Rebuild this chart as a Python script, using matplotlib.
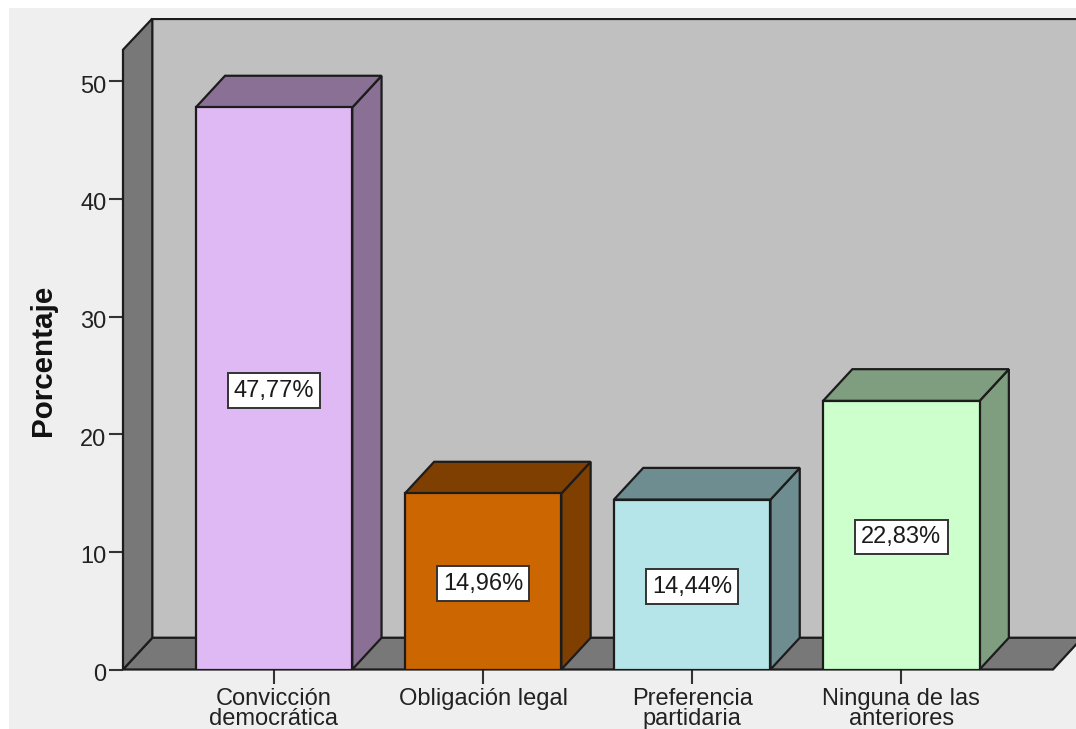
import matplotlib
matplotlib.use("Agg")
import matplotlib.pyplot as plt
from matplotlib.patches import Rectangle
from matplotlib.transforms import ScaledTranslation

# values
categorias = ["Convicción\ndemocrática", "Obligación legal", "Preferencia\npartidaria", "Ninguna de las\nanteriores"]
porcentajes = [47.77, 14.96, 14.44, 22.83]
etiquetas = ["47,77%", "14,96%", "14,44%", "22,83%"]
colores_frente = ["#DFB9F3", "#CC6600", "#B5E5E8", "#CCFFCC"]
colores_lado = ["#897094", "#7F3F00", "#6E8D91", "#7F9E7F"]
ticks_y = [0, 10, 20, 30, 40, 50]

W, H = 1076, 729
LINEA = "#1c1c1c"
plt.rcParams["font.family"] = ["Liberation Sans", "DejaVu Sans"]

fig = plt.figure(figsize=(W / 100, H / 100), dpi=100, facecolor="white")
fig.patches.append(Rectangle((9 / W, 0), 1 - 9 / W, 1 - 8 / H, transform=fig.transFigure,
                             facecolor="#EFEFEF", edgecolor="none", zorder=-1))

# axes box in pixels: front left edge to the picture edge, floor to top of back wall
ax = fig.add_axes([123 / W, (H - 669.5) / H, (W - 123) / W, (669.5 - 18) / H])
ax.patch.set_visible(False)
for s in ax.spines.values():
    s.set_visible(False)

# depth of the fake 3d, in data units
dx = 29.3 / 209.1
dy = 31.7 / 11.76
x_izq = (123 - 274) / 209.1
x_der = (1053 - 274) / 209.1
y_sup = (669.5 - 50) / 11.76
ax.set_xlim(x_izq, (W - 274) / 209.1)
ax.set_ylim(0, y_sup + dy)

lw = 1.6
kw = dict(edgecolor=LINEA, linewidth=lw, joinstyle="miter", clip_on=True)
# back wall, floor, left wall
ax.fill([x_izq + dx, x_der + dx + 1, x_der + dx + 1, x_izq + dx], [dy, dy, y_sup + dy - 0.05, y_sup + dy - 0.05],
        facecolor="#C0C0C0", zorder=1, **kw)
ax.fill([x_izq, x_der, x_der + dx, x_izq + dx], [0, 0, dy, dy], facecolor="#787878", zorder=2,
        edgecolor=LINEA, linewidth=lw, clip_on=False)
ax.fill([x_izq, x_izq + dx, x_izq + dx, x_izq], [0, dy, y_sup + dy - 0.05, y_sup], facecolor="#787878", zorder=2,
        edgecolor=LINEA, linewidth=lw, clip_on=False)

# bars: side and top faces first, then the front
ancho = 156.5 / 209.1
pos = list(range(len(porcentajes)))
for i, v in zip(pos, porcentajes):
    a, b = i - ancho / 2, i + ancho / 2
    ax.fill([b, b + dx, b + dx, b], [0, dy, v + dy, v], facecolor=colores_lado[i], zorder=3, **kw)
    ax.fill([a, b, b + dx, a + dx], [v, v, v + dy, v + dy], facecolor=colores_lado[i], zorder=3, **kw)
ax.bar(pos, porcentajes, width=ancho, color=colores_frente, edgecolor=LINEA, linewidth=lw, zorder=4)

for i, v in zip(pos, porcentajes):
    ax.annotate(etiquetas[i], (i, v / 2), xytext=(0, -1.5), textcoords="offset points",
                ha="center", va="center", fontsize=17, color="#1a1a1a", zorder=5,
                bbox=dict(boxstyle="square,pad=0.26", facecolor="white", edgecolor="#333333", linewidth=1.4))

ax.set_xticks(pos)
ax.set_xticklabels(categorias, fontsize=17, color="#222222", linespacing=0.88)
ax.set_yticks(ticks_y)
ax.tick_params(axis="y", length=10, width=1.5, color="#333333", labelsize=17, labelcolor="#222222", pad=2)
ax.tick_params(axis="x", length=10, width=1.5, color="#333333", pad=3)
for t in ax.get_xticklabels():
    t.set_verticalalignment("top")
# the y labels sit a little below their ticks
bajar = ScaledTranslation(0, -3 / 100, fig.dpi_scale_trans)
for t in ax.get_yticklabels():
    t.set_transform(t.get_transform() + bajar)

fig.text(43 / W, 1 - 360 / H, "Porcentaje", rotation=90, ha="center", va="center",
         fontsize=21.3, fontweight="bold", color="#111111")

fig.savefig("out.png", dpi=100, facecolor=fig.get_facecolor())
